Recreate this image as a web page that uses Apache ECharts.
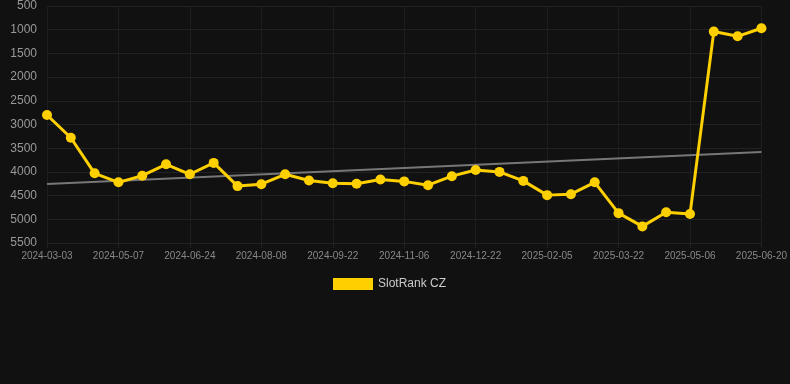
<!DOCTYPE html>
<html>
<head>
<meta charset="utf-8">
<script src="https://cdn.jsdelivr.net/npm/echarts@6/dist/echarts.min.js"></script>
<style>
html,body{margin:0;padding:0;background:#111111;}
#chart{width:790px;height:384px;}
</style>
</head>
<body>
<div id="chart"></div>
<script>
var categories = [
  '2024-03-03','2024-03-25','2024-04-16','2024-05-07','2024-05-23','2024-06-08',
  '2024-06-24','2024-07-09','2024-07-24','2024-08-08','2024-08-23','2024-09-07',
  '2024-09-22','2024-10-07','2024-10-22','2024-11-06','2024-11-21','2024-12-07',
  '2024-12-22','2025-01-06','2025-01-21','2025-02-05','2025-02-20','2025-03-07',
  '2025-03-22','2025-04-06','2025-04-21','2025-05-06','2025-05-21','2025-06-05',
  '2025-06-20'
];
var rankValues = [
  2800, 3280, 4030, 4220, 4080, 3840,
  4050, 3810, 4300, 4260, 4050, 4180,
  4240, 4250, 4160, 4200, 4280, 4090,
  3960, 4000, 4190, 4490, 4470, 4220,
  4870, 5150, 4850, 4890, 1040, 1140,
  970
];
var trendValues = [4255, null, null, null, null, null, null, null, null, null, null, null, null, null, null, null, null, null, null, null, null, null, null, null, null, null, null, null, null, null, 3580];
var yTicks = { min: 500, max: 5500, interval: 500 };
var seriesName = 'SlotRank CZ';

var chart = echarts.init(document.getElementById('chart'));
chart.setOption({
  backgroundColor: '#111111',
  animation: false,
  grid: { left: 47, right: 28, top: 6, bottom: 141 },
  legend: {
    data: [seriesName],
    top: 273,
    left: 328,
    itemWidth: 40,
    itemHeight: 12,
    icon: 'rect',
    textStyle: { color: '#cccccc', fontSize: 12 }
  },
  xAxis: {
    type: 'category',
    data: categories,
    boundaryGap: false,
    axisLine: { show: false },
    axisTick: { show: true, interval: 2, length: 5, lineStyle: { color: '#222222' } },
    axisLabel: { interval: 2, color: '#888888', fontSize: 10, margin: 8 },
    splitLine: { show: true, interval: 2, lineStyle: { color: '#1e1e1e', width: 1 } }
  },
  yAxis: {
    type: 'value',
    inverse: true,
    min: yTicks.min,
    max: yTicks.max,
    interval: yTicks.interval,
    axisLine: { show: false },
    axisTick: { show: false },
    axisLabel: { color: '#999999', fontSize: 12, margin: 10, formatter: function (v) { return String(v); } },
    splitLine: { lineStyle: { color: '#222222', width: 1 } }
  },
  series: [
    {
      name: 'trend',
      type: 'line',
      data: trendValues,
      connectNulls: true,
      showSymbol: false,
      symbol: 'none',
      lineStyle: { color: '#777777', width: 2 },
      z: 1,
      silent: true
    },
    {
      name: seriesName,
      type: 'line',
      data: rankValues,
      symbol: 'circle',
      symbolSize: 10,
      color: '#FFD000',
      itemStyle: { color: '#FFD000' },
      lineStyle: { color: '#FFD000', width: 3 },
      z: 3
    }
  ]
});
</script>
</body>
</html>
